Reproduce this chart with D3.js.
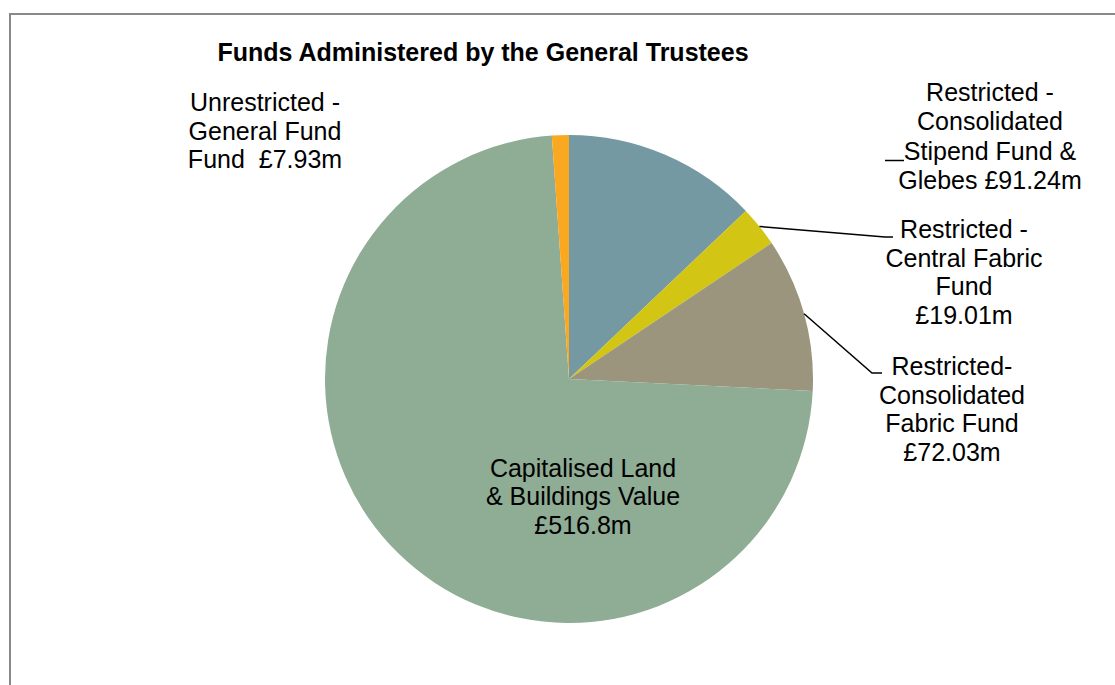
<!DOCTYPE html>
<html>
<head>
<meta charset="utf-8">
<script src="https://cdn.jsdelivr.net/npm/d3@7"></script>
<style>
  html, body { margin: 0; padding: 0; background: #fff; }
  svg { display: block; }
  text { font-family: "Liberation Sans", Arial, sans-serif; fill: #000; }
</style>
</head>
<body>
<svg id="chart" width="1115" height="685"></svg>
<script>
// Fund categories, in drawing order clockwise from 12 o'clock
const categories = [
  "Restricted - Consolidated Stipend Fund & Glebes",
  "Restricted - Central Fabric Fund",
  "Restricted- Consolidated Fabric Fund",
  "Capitalised Land & Buildings Value",
  "Unrestricted - General Fund Fund"
];
// Values in £ millions
const values = [91.24, 19.01, 72.03, 516.8, 7.93];
const colors = ["#7599a3", "#d3c513", "#9a957c", "#8fac94", "#f9a81f"];

// Multi-line data labels, one array per slice
const labelLines = [
  ["Restricted -", "Consolidated", "Stipend Fund &", "Glebes £91.24m"],
  ["Restricted -", "Central Fabric", "Fund", "£19.01m"],
  ["Restricted-", "Consolidated", "Fabric Fund", "£72.03m"],
  ["Capitalised Land", "& Buildings Value", "£516.8m"],
  ["Unrestricted -", "General Fund", "Fund  £7.93m"]
];

const title = "Funds Administered by the General Trustees";

const svg = d3.select("#chart");
const W = 1115, H = 685;

// Chart area frame (extends past the right and bottom edges)
svg.append("rect")
  .attr("x", 10).attr("y", 14)
  .attr("width", W + 20).attr("height", H + 20)
  .attr("fill", "#fff")
  .attr("stroke", "#898989")
  .attr("stroke-width", 2);

svg.append("text")
  .attr("x", 483).attr("y", 61)
  .attr("text-anchor", "middle")
  .style("font-weight", "bold")
  .style("font-size", "25px")
  .text(title);

const cx = 569, cy = 379, R = 244;
const g = svg.append("g").attr("transform", `translate(${cx},${cy})`);

const pie = d3.pie().sort(null).value(d => d.value);
const arcs = pie(values.map((v, i) => ({ name: categories[i], value: v, color: colors[i] })));
const arc = d3.arc().innerRadius(0).outerRadius(R);

g.selectAll("path.slice")
  .data(arcs)
  .join("path")
  .attr("class", "slice")
  .attr("d", arc)
  .attr("fill", d => d.data.color);

// Point on the rim at a slice's mid angle
function rimPoint(d) {
  const a = (d.startAngle + d.endAngle) / 2;
  return [cx + R * Math.sin(a), cy - R * Math.cos(a)];
}

// Label placement: centre x, first baseline, line pitch
const labelPos = [
  { x: 990, y: 101, dy: 29.3 },
  { x: 964, y: 238, dy: 28.6 },
  { x: 952, y: 375, dy: 28.6 },
  { x: 583, y: 477, dy: 28.3 },
  { x: 265, y: 111, dy: 28.6 }
];

labelLines.forEach((lines, i) => {
  const p = labelPos[i];
  const t = svg.append("text")
    .attr("text-anchor", "middle")
    .style("font-size", "25px")
    .attr("xml:space", "preserve")
    .style("white-space", "pre");
  lines.forEach((ln, j) => {
    t.append("tspan").attr("x", p.x).attr("y", p.y + j * p.dy).text(ln);
  });
});

// Leader lines
const lineG = svg.append("g").attr("fill", "none").attr("stroke", "#000").attr("stroke-width", 1.5);
// Stipend label stub
lineG.append("path").attr("d", "M885,160.5H904");
// Central Fabric Fund
{
  const [x0, y0] = rimPoint(arcs[1]);
  lineG.append("path").attr("d", `M${x0},${y0}L885,237H893`);
}
// Consolidated Fabric Fund
{
  const [x0, y0] = rimPoint(arcs[2]);
  lineG.append("path").attr("d", `M${x0},${y0}L872,373H882`);
}
</script>
</body>
</html>
